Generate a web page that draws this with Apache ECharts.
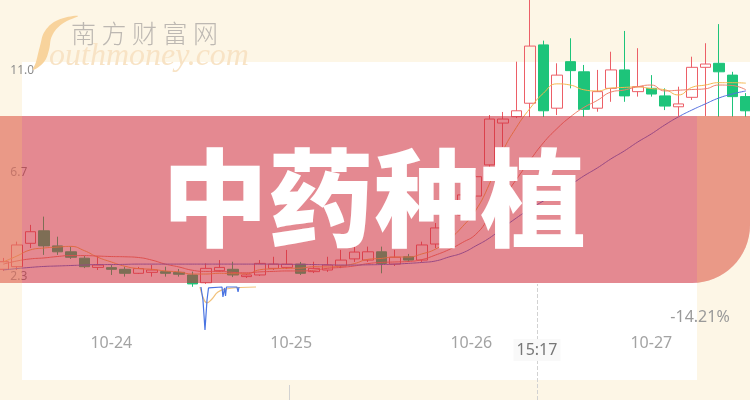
<!DOCTYPE html>
<html>
<head>
<meta charset="utf-8">
<script src="https://cdn.jsdelivr.net/npm/echarts@6/dist/echarts.min.js"></script>
<style>html,body{margin:0;padding:0;background:#fdf6e6}#c{width:750px;height:400px}</style>
</head>
<body>
<div id="c"></div>
<script>
// ---- data ----
const categories = Array.from({length: 56}, (_, i) => 'K' + (i + 1));
const opens  = [2.60,2.71,3.70,4.23,3.59,3.34,3.07,2.68,2.67,2.60, 2.43,2.47,2.50,2.47,2.36,2.03,2.54,2.60,2.29,2.36, 2.64,2.68,2.82,2.50,2.57,2.74,3.04,2.99,3.34,2.82, 3.13,2.99,3.67,4.26,4.90,5.70,7.02,8.79,9.06,9.63, 12.10,9.42,11.39,10.96,9.42,10.26,11.04,10.12,10.26,9.94, 9.48,9.88,11.15,11.32,10.82,9.91];
const closes = [2.92,3.63,4.19,3.59,3.34,3.11,2.71,2.78,2.60,2.43, 2.63,2.57,2.43,2.39,1.98,2.64,2.68,2.36,2.36,2.85, 2.82,2.82,2.43,2.64,2.78,2.99,3.33,3.34,2.85,3.11, 2.99,3.63,4.35,4.94,5.75,6.52,8.96,8.96,9.31,12.05, 9.31,10.82,11.01,9.37,10.12,11.04,9.94,10.33,10.02,9.51, 9.60,11.15,11.29,10.96,9.91,9.31];
const lows   = [2.53,2.57,3.50,3.21,3.21,3.04,2.65,2.57,2.36,2.29, 2.40,2.29,2.29,2.29,1.86,1.98,2.49,2.27,2.23,2.32, 2.57,2.61,2.36,2.44,2.49,2.65,2.91,2.91,2.43,2.74, 2.91,2.91,3.50,4.09,4.69,5.53,6.80,7.78,9.00,9.05, 9.05,9.13,10.26,9.05,9.27,9.69,9.69,9.91,9.91,9.34, 9.09,9.77,9.09,9.05,9.05,9.05];
const highs  = [3.08,3.77,4.48,4.83,3.98,3.56,3.16,3.16,2.78,2.71, 2.70,2.78,2.71,2.61,2.50,2.85,2.99,2.92,2.40,2.99, 3.13,3.42,2.91,2.92,3.13,3.42,3.63,3.56,3.56,3.42, 3.25,3.77,4.56,5.19,6.17,6.80,9.13,9.26,11.39,14.20, 12.28,11.32,12.38,11.25,11.04,11.81,12.69,11.96,10.82,10.26, 10.33,11.60,12.17,12.98,10.96,10.06];
const ma5  = [2.91,3.16,3.42,3.50,3.54,3.57,3.39,3.11,2.91,2.73, 2.63,2.60,2.53,2.49,2.40,2.40,2.43,2.41,2.41,2.58, 2.62,2.64,2.65,2.71,2.70,2.74,2.84,3.02,3.06,3.12, 3.12,3.25,3.45,3.85,4.40,5.10,6.20,7.60,8.60,9.40, 10.05,10.45,10.40,10.20,10.15,10.27,10.30,10.32,10.25,10.20, 9.98,10.30,10.40,10.50,10.50,10.48];
const ma10 = [2.82,2.95,3.04,3.08,3.14,3.18,3.18,3.16,3.14,3.13, 3.10,2.99,2.82,2.70,2.56,2.51,2.51,2.47,2.45,2.49, 2.51,2.53,2.53,2.56,2.64,2.68,2.74,2.84,2.89,2.91, 2.93,3.01,3.20,3.43,3.73,4.08,4.80,5.60,6.40,7.20, 7.95,8.55,9.05,9.45,9.75,10.10,10.19,10.33,10.40,10.15, 10.18,10.21,10.24,10.40,10.38,10.20];
const ma20 = [2.57,2.63,2.68,2.72,2.74,2.76,2.78,2.80,2.80,2.81, 2.82,2.82,2.82,2.82,2.82,2.82,2.82,2.82,2.82,2.82, 2.82,2.81,2.81,2.80,2.79,2.78,2.78,2.79,2.80,2.82, 2.85,2.89,2.95,3.12,3.29,3.59,3.92,4.35,4.77,5.15, 5.49,5.83,6.17,6.55,6.89,7.27,7.61,7.99,8.33,8.71, 9.05,9.34,9.60,9.85,10.02,10.15];
// lower pane (intraday indicator)
const blueX = [14.64,14.79,14.94,15.09,15.2,16.2,16.27,16.39,16.46,16.53,17.31,17.39,17.46];
const blueY = [-0.05,-1.56,-5.04,-1.56,-0.16,-0.05,-1.21,-0.16,-1.09,-0.05,-0.05,-0.63,-0.05];
const orangeX = [14.57,14.79,15.09,15.46,15.9,16.5,17.53,18.72];
const orangeY = [-0.05,-1.21,-1.9,-1.44,-0.63,-0.28,-0.11,-0.05];
// tick labels
const yLabelVals = [2.3, 6.7, 11.0];
const xLabelPos = [8, 21.33, 34.67, 48];
const xLabelText = ['10-24', '10-25', '10-26', '10-27'];
const pointerPos = 39.53, pointerText = '15:17', pointerLabelLevel = -7.38;
const changeText = '-14.21%';
const titleText = '中药种植';

// decoration geometry: right strip of banner following the rounded corner
const stripPts = [[697, 116], [750, 116], [750, 225]];
for (let k = 1; k <= 12; k++) {
  const a = (k / 12) * Math.acos(5 / 58);
  stripPts.push([692 + 58 * Math.cos(a), 225 + 58 * Math.sin(a)]);
}

const chart = echarts.init(document.getElementById('c'));
const GL = 3.3, GR = 4.2;
const option = {
  animation: false,
  backgroundColor: '#fdf6e6',
  grid: [
    {left: GL, right: GR, top: 0, height: 300},
    {left: GL, right: GR, top: 284, height: 116}
  ],
  xAxis: [
    {type: 'category', gridIndex: 0, data: categories, boundaryGap: false, show: false},
    {type: 'value', gridIndex: 0, min: 0, max: 55, position: 'bottom',
     axisLine: {show: false}, axisTick: {show: false}, splitLine: {show: false},
     axisLabel: {customValues: xLabelPos, margin: 35, color: '#a3a3a3', fontSize: 16, fontFamily: 'Noto Sans',
       formatter: v => { let b = 0; xLabelPos.forEach((p, i) => { if (Math.abs(p - v) < Math.abs(xLabelPos[b] - v)) b = i; }); return xLabelText[b]; }}},
    {type: 'value', gridIndex: 1, min: 0, max: 55, show: false}
  ],
  yAxis: [
    {type: 'value', gridIndex: 0, min: 1.3, max: 14, axisLine: {show: false}, axisTick: {show: false}, splitLine: {show: false},
     axisLabel: {inside: true, customValues: yLabelVals, formatter: v => v.toFixed(1), color: '#8c8c8c', fontSize: 12, margin: 7, fontFamily: 'Noto Sans'}},
    {type: 'value', gridIndex: 1, min: -13.2, max: 0.3, show: false}
  ],
  series: [
    {type: 'candlestick', xAxisIndex: 0, yAxisIndex: 0, clip: true, barWidth: 11,
     data: opens.map((o, i) => [o, closes[i], lows[i], highs[i]]),
     itemStyle: {color: 'rgba(0,0,0,0)', color0: '#1dc47a', borderColor: '#ec5f67', borderColor0: '#1dc47a', borderWidth: 1}},
    {type: 'line', xAxisIndex: 0, yAxisIndex: 0, data: ma5, symbol: 'none', smooth: true, lineStyle: {color: '#f5b84f', width: 1}},
    {type: 'line', xAxisIndex: 0, yAxisIndex: 0, data: ma10, symbol: 'none', smooth: true, lineStyle: {color: '#f0806a', width: 1}},
    {type: 'line', xAxisIndex: 0, yAxisIndex: 0, data: ma20, symbol: 'none', smooth: true, lineStyle: {color: '#5570e0', width: 1}},
    {type: 'line', xAxisIndex: 2, yAxisIndex: 1, data: orangeX.map((x, i) => [x, orangeY[i]]), symbol: 'none', smooth: true,
     lineStyle: {color: '#f2c27c', width: 1.2}},
    {type: 'line', xAxisIndex: 2, yAxisIndex: 1, data: blueX.map((x, i) => [x, blueY[i]]), symbol: 'none',
     lineStyle: {color: '#4a74e2', width: 1.2},
     markLine: {silent: true, symbol: 'none', label: {show: false},
       lineStyle: {type: 'dashed', color: '#d2d2d2', width: 1}, data: [{xAxis: pointerPos}]},
     markPoint: {silent: true, symbol: 'rect', symbolSize: 1, itemStyle: {color: 'rgba(0,0,0,0)'},
       label: {show: true, position: 'inside', formatter: pointerText, color: '#777', fontSize: 16, fontFamily: 'Noto Sans',
         backgroundColor: 'rgba(249,249,249,0.95)', padding: [3, 3]},
       data: [{coord: [pointerPos, pointerLabelLevel]}]}}
  ],
  graphic: {elements: [
    {type: 'rect', z: -1, silent: true, shape: {x: 22, y: 62, width: 675, height: 318}, style: {fill: '#ffffff'}},
    {type: 'rect', z: -1, silent: true, shape: {x: 697, y: 62, width: 53, height: 54}, style: {fill: '#ffffff'}},
    {type: 'line', z: -1, silent: true, shape: {x1: 289.5, y1: 385, x2: 289.5, y2: 400}, style: {stroke: '#d2d2d2', lineWidth: 1}},
    // watermark
    {type: 'polygon', z: 40, silent: true,
     shape: {points: [[78,16],[58,20],[45,31],[40,46],[36,62],[33,70],[44,62],[49,50],[52,36],[62,24]], smooth: 0.4},
     style: {fill: '#f8d39c'}},
    {type: 'text', z: 40, silent: true, style: {text: '南 方 财 富 网', x: 71, y: 33, textVerticalAlign: 'middle',
      fill: '#bdb8b2', fontSize: 25, fontFamily: 'Noto Sans CJK SC', fontWeight: 300}},
    {type: 'text', z: 40, silent: true, style: {text: 'outhmoney.com', x: 49, y: 57, textVerticalAlign: 'middle',
      fill: '#f8e3c5', fontSize: 32, fontStyle: 'italic', fontFamily: 'Liberation Serif'}},
    // banner
    {type: 'rect', z: 50, silent: true, shape: {x: 0, y: 116, width: 750, height: 167, r: [0, 0, 58, 0]}, style: {fill: 'rgba(205,40,55,0.55)'}},
    {type: 'rect', z: 51, silent: true, shape: {x: 0, y: 116, width: 22, height: 167}, style: {fill: 'rgba(250,205,140,0.28)'}},
    {type: 'polygon', z: 51, silent: true, shape: {points: stripPts}, style: {fill: 'rgba(250,205,140,0.28)'}},
    {type: 'text', z: 60, silent: true, style: {text: titleText, x: 374, y: 198, textAlign: 'center', textVerticalAlign: 'middle',
      fill: '#ffffff', fontSize: 106, fontWeight: 900, fontFamily: 'Noto Sans CJK SC'}},
    {type: 'text', z: 60, silent: true, style: {text: changeText, x: 700, y: 317, textAlign: 'center', textVerticalAlign: 'middle',
      fill: '#9a9a9a', fontSize: 16, fontFamily: 'Noto Sans'}}
  ]}
};
chart.setOption(option);
</script>
</body>
</html>
